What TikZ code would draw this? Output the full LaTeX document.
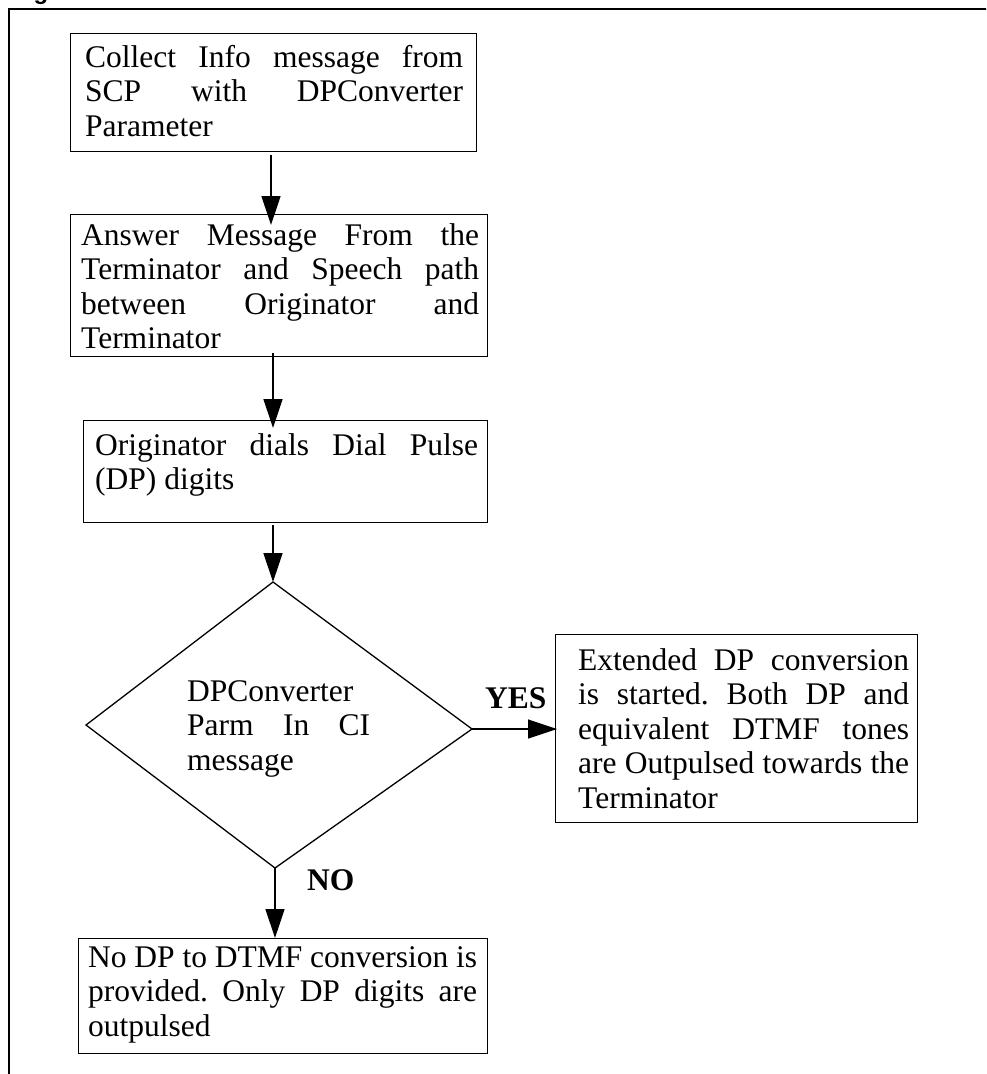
\documentclass[tikz,border=0pt]{standalone}
\usepackage{fontspec}
\setmainfont{Liberation Serif}
\newfontfamily\titlefont{Liberation Sans}
\usetikzlibrary{arrows.meta}
% one justified line of a given width (in pt)
\newcommand\jl[2]{\makebox[#1pt][s]{#2}}
\frenchspacing

\tikzset{
  box/.style={draw, line width=1.3pt, inner sep=0pt, anchor=north west},
  txt/.style={anchor=base west, inner sep=0pt, font=\fontsize{31.5}{34.5}\selectfont},
  lbl/.style={anchor=base west, inner sep=0pt, font=\fontsize{31.5}{34.5}\selectfont\bfseries},
  flow/.style={line width=1.3pt, -{Triangle[length=29pt,width=19pt]}},
}

\begin{document}
\begin{tikzpicture}[x=1pt,y=-1pt]
\useasboundingbox (0,0) rectangle (986,1074);
\clip (0,0) rectangle (986,1074);

% title (runs off the top) and the surrounding frame
\node[anchor=base west, inner sep=0pt, font=\titlefont\bfseries\fontsize{24}{26}\selectfont] (title) at (12,-1) {Figure};
\draw[line width=2.5pt] (9,1090) -- (9,9) -- (1000,9);

% process boxes
\node[box, minimum width=406pt, minimum height=118pt] (b1) at (70,33) {};
\node[box, minimum width=417pt, minimum height=142pt] (b2) at (70,214) {};
\node[box, minimum width=404pt, minimum height=102pt] (b3) at (83,420) {};
\node[box, minimum width=362pt, minimum height=188pt] (b5) at (555,634) {};
\node[box, minimum width=409pt, minimum height=115pt] (b4) at (78,938) {};

% decision diamond
\coordinate (dT) at (273,582);
\coordinate (dR) at (472,729);
\coordinate (dB) at (275,868);
\coordinate (dL) at (86,725);
\draw[line width=1.3pt, line join=miter] (dT) -- (dR) -- (dB) -- (dL) -- cycle;

% texts
\node[txt] (t1) at (85,67) {\parbox[t]{378pt}{\jl{378}{Collect Info message from}\\\jl{378}{SCP with DPConverter}\\Parameter}};
\node[txt] (t2) at (81,245) {\parbox[t]{398pt}{\jl{398}{Answer Message From the}\\\jl{398}{Terminator and Speech path}\\\jl{398}{between Originator and}\\Terminator}};
\node[txt] (t3) at (95,455) {\parbox[t]{383pt}{\jl{383}{Originator dials Dial Pulse}\\(DP) digits}};
\node[txt] (t4) at (187,701) {\parbox[t]{183pt}{DPConverter\\\jl{183}{Parm In CI}\\message}};
\node[txt] (t5) at (578,670) {\parbox[t]{331pt}{\jl{331}{Extended DP conversion}\\\jl{331}{is started. Both DP and}\\\jl{331}{equivalent DTMF tones}\\\jl{331}{are Outpulsed towards the}\\Terminator}};
\node[txt] (t6) at (88,967) {\parbox[t]{389pt}{\jl{389}{No DP to DTMF conversion is}\\\jl{389}{provided. Only DP digits are}\\outpulsed}};

% branch labels
\node[lbl] (yes) at (485,708) {YES};
\node[lbl] (no) at (307,890) {NO};

% connectors
\coordinate (a1s) at (271,155);
\coordinate (a1e) at (271,225);
\coordinate (a2s) at (273,353);
\coordinate (a2e) at (273,428);
\coordinate (a3s) at (273,525);
\coordinate (yE) at (557,729);
\coordinate (nE) at (275,938);
\draw[flow] (a1s) -- (a1e);
\draw[flow] (a2s) -- (a2e);
\draw[flow] (a3s) -- (dT);
\draw[flow] (dR) -- (yE);
\draw[flow] (dB) -- (nE);
\end{tikzpicture}
\end{document}
